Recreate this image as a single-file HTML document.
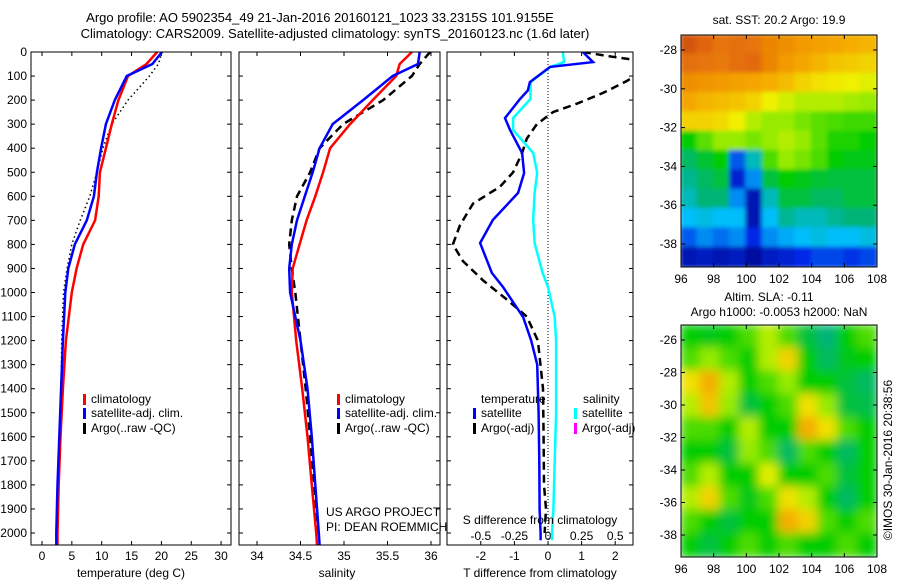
<!DOCTYPE html>
<html><head><meta charset="utf-8"><style>
body{margin:0;background:#fff}
svg{display:block;font-family:"Liberation Sans",sans-serif;font-size:12px}
</style></head><body>
<svg id="s" width="900" height="580" xmlns="http://www.w3.org/2000/svg">
<defs>
<clipPath id="c1"><rect x="31" y="52" width="200" height="493"/></clipPath>
<clipPath id="c2"><rect x="239" y="52" width="201" height="493"/></clipPath>
<clipPath id="c3"><rect x="447" y="52" width="186" height="493"/></clipPath>
<clipPath id="m1c"><rect x="681" y="35" width="196" height="232"/></clipPath>
<clipPath id="m2c"><rect x="681" y="325" width="196" height="232"/></clipPath>
<filter id="bl1"><feGaussianBlur stdDeviation="2"/></filter>
<filter id="bl2"><feGaussianBlur stdDeviation="5"/></filter>
</defs>
<text x="320" y="22" text-anchor="middle" font-size="13">Argo profile: AO 5902354_49 21-Jan-2016 20160121_1023 33.2315S 101.9155E</text>
<text x="335" y="38" text-anchor="middle" font-size="13">Climatology: CARS2009. Satellite-adjusted climatology: synTS_20160123.nc (1.6d later)</text>
<text x="779" y="24" text-anchor="middle">sat. SST: 20.2 Argo: 19.9</text>
<text x="769" y="301" text-anchor="middle">Altim. SLA: -0.11</text>
<text x="779" y="316" text-anchor="middle">Argo h1000: -0.0053 h2000: NaN</text>
<text transform="translate(892,460) rotate(-90)" text-anchor="middle">©IMOS 30-Jan-2016 20:38:56</text>
<g id="g"></g>
</svg>
<script>
// ---- data ----
const depths=[0,50,100,200,300,400,500,600,700,800,900,1000,1200,1400,1600,1800,2000,2050];
const tClim=[19.3,17.5,14.4,12.8,11.7,10.7,9.7,9.5,8.9,6.9,5.8,5.0,4.0,3.5,3.1,2.8,2.6,2.6];
const tSat=[20.1,18.5,14.2,12.2,10.7,9.9,9.2,8.7,7.5,5.5,4.4,3.9,3.5,3.2,2.9,2.6,2.4,2.4];
const tArgo=[20.1,19.5,18.0,14.4,11.7,10.2,9.2,8.0,6.4,5.0,4.2,3.6,3.3,3.2,2.9,2.7,2.5];
const sClim=[35.78,35.64,35.6,35.33,35.07,34.84,34.76,34.67,34.57,34.49,34.41,34.4,34.45,34.52,34.58,34.63,34.68,34.69];
const sSat=[35.87,35.85,35.56,35.22,34.87,34.72,34.64,34.55,34.46,34.4,34.37,34.38,34.5,34.58,34.63,34.67,34.71,34.72];
const sArgo=[35.99,35.87,35.78,35.45,34.99,34.72,34.61,34.46,34.4,34.37,34.4,34.44,34.5,34.56,34.61,34.66,34.7];
const dDepths=[0,42,62,125,160,195,275,324,420,503,586,698,794,919,977,1102,1200,1300,1500,1700,1900,2000,2030];
const dTSat=[1.04,1.34,0.06,-0.54,-0.6,-0.83,-1.28,-1.13,-0.77,-0.71,-0.89,-1.64,-2.02,-1.67,-1.34,-0.74,-0.5,-0.32,-0.28,-0.26,-0.25,-0.22,-0.22];
const dSSat=[0.11,0.12,0.02,-0.13,-0.13,-0.13,-0.26,-0.26,-0.11,-0.08,-0.1,-0.11,-0.1,-0.04,0.0,0.05,0.06,0.06,0.06,0.05,0.04,0.03,0.03];
const aDepths=[0,20,40,70,120,170,215,250,300,360,420,500,560,630,720,800,870,950,1030,1100,1200,1400,1600,1800,1900,2000];
const dTArgo=[1.04,1.93,2.95,2.9,2.35,1.64,0.86,0.15,-0.33,-0.63,-0.77,-1.04,-1.43,-2.23,-2.62,-2.83,-2.53,-1.93,-1.22,-0.63,-0.3,-0.15,-0.13,-0.12,-0.06,-0.1];
const depthTicks=[0,100,200,300,400,500,600,700,800,900,1000,1100,1200,1300,1400,1500,1600,1700,1800,1900,2000];
const tTicks=[0,5,10,15,20,25,30];
const sTicks=[34,34.5,35,35.5,36];
const sTickLabels=["34","34.5","35","35.5","36"];
const dTTicks=[-2,-1,0,1,2];
const dSTicks=[-0.5,-0.25,0,0.25,0.5];
const dSTickLabels=["-0.5","-0.25","0","0.25","0.5"];
const lonTicks=[96,98,100,102,104,106,108];
const lat1Ticks=[-28,-30,-32,-34,-36,-38];
const lat2Ticks=[-26,-28,-30,-32,-34,-36,-38];
const sstGrid=[
[.9,.88,.85,.86,.85,.82,.8,.78,.77,.76,.75,.74],
[.86,.85,.84,.86,.87,.82,.78,.76,.74,.72,.71,.7],
[.8,.79,.78,.77,.76,.75,.73,.7,.68,.67,.66,.65],
[.76,.74,.73,.72,.7,.66,.64,.62,.62,.62,.61,.6],
[.7,.7,.69,.66,.62,.6,.6,.58,.56,.55,.54,.54],
[.5,.56,.6,.6,.58,.6,.62,.6,.56,.52,.52,.5],
[.42,.46,.5,.2,.35,.55,.6,.58,.55,.5,.48,.48],
[.38,.42,.45,.12,.25,.45,.5,.48,.46,.45,.45,.45],
[.35,.4,.4,.25,.08,.35,.45,.45,.42,.42,.45,.45],
[.3,.32,.3,.3,.08,.3,.38,.35,.35,.38,.4,.4],
[.2,.25,.22,.25,.15,.25,.28,.3,.32,.3,.3,.32],
[.08,.1,.08,.1,.05,.1,.12,.15,.18,.18,.16,.18]];
const slaGrid=[
[.5,.48,.5,.55,.62,.55,.45,.4,.5,.55],
[.55,.6,.55,.5,.62,.7,.5,.42,.48,.5],
[.68,.75,.62,.5,.55,.6,.5,.5,.45,.42],
[.62,.72,.6,.45,.5,.55,.68,.6,.45,.44],
[.55,.55,.5,.62,.5,.5,.75,.68,.55,.5],
[.5,.5,.45,.6,.55,.42,.55,.5,.42,.5],
[.55,.62,.5,.5,.65,.5,.5,.55,.45,.5],
[.62,.7,.55,.48,.55,.68,.62,.5,.42,.5],
[.55,.5,.45,.5,.5,.75,.7,.55,.5,.55],
[.5,.45,.5,.55,.5,.55,.5,.5,.55,.5]];

// ---- scales ----
const yD=d=>52+d*0.2405;
const xT=t=>42+t*5.97;
const xS=s=>257+(s-34)*87;
const xDT=t=>548+t*33.6;
const xDS=s=>548+s*4*33.6;
const xLon=l=>681+(l-96)*196/12;
const yLat1=l=>50+(-28-l)*19.4;
const yLat2=l=>340+(-26-l)*16.25;

const NS="http://www.w3.org/2000/svg";
const G=document.getElementById('g');
function mk(tag,attrs,parent){const e=document.createElementNS(NS,tag);for(const k in attrs)e.setAttribute(k,attrs[k]);(parent||G).appendChild(e);return e;}
function txt(x,y,s,anchor,parent){const e=mk('text',{x:x,y:y,'text-anchor':anchor||'start'},parent);e.textContent=s;return e;}
const cmStops=[[0,[0,0,120]],[0.15,[0,40,230]],[0.3,[0,190,250]],[0.4,[0,180,120]],[0.5,[0,205,0]],[0.6,[150,235,0]],[0.66,[240,240,0]],[0.76,[245,165,0]],[0.88,[225,100,10]],[1,[140,20,0]]];
function jet(v){v=Math.max(0,Math.min(1,v));for(let i=1;i<cmStops.length;i++){if(v<=cmStops[i][0]){const [a,ca]=cmStops[i-1],[b,cb]=cmStops[i];const f=(v-a)/(b-a);return `rgb(${ca.map((c,k)=>Math.round(c+(cb[k]-c)*f)).join(',')})`;}}return 'rgb(140,20,0)';}
function line(xs,ds,xf,color,w,dash,clip,name){
  const pts=xs.map((v,i)=>xf(v).toFixed(1)+','+yD(ds[i]).toFixed(1)).join(' ');
  const p=mk('polyline',{points:pts,fill:'none',stroke:color,'stroke-width':w,'clip-path':'url(#'+clip+')'});
  if(dash)p.setAttribute('stroke-dasharray',dash);
  
  
}
function frame(x,w,name){
  const r=mk('rect',{x:x,y:52,width:w,height:493,fill:'none',stroke:'#000','stroke-width':1});
  
  
}
[[31,231],[239,440],[447,633]].forEach(([a,b])=>{
  depthTicks.forEach(d=>{mk('line',{x1:a,x2:a+4,y1:yD(d),y2:yD(d),stroke:'#000'});mk('line',{x1:b,x2:b-4,y1:yD(d),y2:yD(d),stroke:'#000'});});
});
depthTicks.forEach(d=>{const t=txt(27,yD(d)+4,String(d),'end');});
// panel 1
tTicks.forEach(t=>{mk('line',{x1:xT(t),x2:xT(t),y1:545,y2:541,stroke:'#000'});mk('line',{x1:xT(t),x2:xT(t),y1:52,y2:56,stroke:'#000'});const e=txt(xT(t),560,String(t),'middle');});
line(tArgo,depths.slice(0,tArgo.length),xT,'#000',1.5,'1.5,3','c1','temperature-argo-line');
line(tClim,depths,xT,'#f00',2.5,null,'c1','temperature-climatology-line');
line(tSat,depths,xT,'#00f',2.5,null,'c1','temperature-satellite-line');
frame(31,200,'temperature-panel');
{const e=txt(131,577,'temperature (deg C)','middle');}
// panel 2
sTicks.forEach((s,i)=>{mk('line',{x1:xS(s),x2:xS(s),y1:545,y2:541,stroke:'#000'});mk('line',{x1:xS(s),x2:xS(s),y1:52,y2:56,stroke:'#000'});const e=txt(xS(s),560,sTickLabels[i],'middle');});
line(sArgo,depths.slice(0,sArgo.length),xS,'#000',2.5,'8,5','c2','salinity-argo-line');
line(sClim,depths,xS,'#f00',2.5,null,'c2','salinity-climatology-line');
line(sSat,depths,xS,'#00f',2.5,null,'c2','salinity-satellite-line');
frame(239,201,'salinity-panel');
{const e=txt(337,577,'salinity','middle');}
// panel 3
dTTicks.forEach(t=>{mk('line',{x1:xDT(t),x2:xDT(t),y1:545,y2:541,stroke:'#000'});const e=txt(xDT(t),560,String(t),'middle');});
dSTicks.forEach((s,i)=>{mk('line',{x1:xDS(s),x2:xDS(s),y1:52,y2:56,stroke:'#000'});const e=txt(xDS(s),540,dSTickLabels[i],'middle');});
mk('line',{x1:xDT(0),x2:xDT(0),y1:52,y2:545,stroke:'#000','stroke-dasharray':'1,2'});
line(dTArgo,aDepths,xDT,'#000',2.5,'8,5','c3','t-diff-argo-line');
line(dSSat,dDepths,xDS,'#0ff',2.5,null,'c3','s-diff-satellite-line');
line(dTSat,dDepths,xDT,'#00f',2.5,null,'c3','t-diff-satellite-line');
frame(447,186,'difference-panel');
{const e=txt(540,524,'S difference from climatology','middle');}
{const e=txt(540,577,'T difference from climatology','middle');}
// legends
function leg(x,y,color,label,name){mk('rect',{x:x,y:y-9,width:3,height:11,fill:color});const e=txt(x+8,y,label);}
leg(83,403,'#f00','climatology','legend-climatology');
leg(83,417,'#00f','satellite-adj. clim.','legend-satellite');
leg(83,432,'#000','Argo(..raw -QC)','legend-argo');
leg(337,403,'#f00','climatology','legend2-climatology');
leg(337,417,'#00f','satellite-adj. clim.','legend2-satellite');
leg(337,432,'#000','Argo(..raw -QC)','legend2-argo');
txt(481,403,'temperature');txt(583,403,'salinity');
leg(473,417,'#00f','satellite','legend3-t-satellite');
leg(473,432,'#000','Argo(-adj)','legend3-t-argo');
leg(574,417,'#0ff','satellite','legend3-s-satellite');
leg(574,432,'#f0f','Argo(-adj)','legend3-s-argo');
txt(326,516,'US ARGO PROJECT');txt(326,531,'PI: DEAN ROEMMICH');
// maps
function map(grid,y0,h,clip,filt,name){
  const g=mk('g',{'clip-path':'url(#'+clip+')'});
  
  
  const inner=mk('g',{filter:'url(#'+filt+')'},g);
  const R=grid.length,C=grid[0].length,cw=196/C,ch=h/R;
  grid.forEach((row,r)=>row.forEach((v,c)=>{
    const cell=mk('rect',{x:(681+c*cw-1).toFixed(1),y:(y0+r*ch-1).toFixed(1),width:(cw+2).toFixed(1),height:(ch+2).toFixed(1),fill:jet(v)},inner);
    
    
  }));
  mk('rect',{x:681,y:y0,width:196,height:h,fill:'none',stroke:'#000'});
}
map(sstGrid,35,232,'m1c','bl1','sst-map');
map(slaGrid,325,232,'m2c','bl2','sla-map');
[[35,267],[325,557]].forEach(([t,b])=>{
  lonTicks.forEach(l=>{mk('line',{x1:xLon(l),x2:xLon(l),y1:b,y2:b-4,stroke:'#000'});mk('line',{x1:xLon(l),x2:xLon(l),y1:t,y2:t+4,stroke:'#000'});const e=txt(xLon(l),b+16,String(l),'middle');});
});
lat1Ticks.forEach(l=>{mk('line',{x1:681,x2:685,y1:yLat1(l),y2:yLat1(l),stroke:'#000'});mk('line',{x1:877,x2:873,y1:yLat1(l),y2:yLat1(l),stroke:'#000'});const e=txt(677,yLat1(l)+4,String(l),'end');});
lat2Ticks.forEach(l=>{mk('line',{x1:681,x2:685,y1:yLat2(l),y2:yLat2(l),stroke:'#000'});mk('line',{x1:877,x2:873,y1:yLat2(l),y2:yLat2(l),stroke:'#000'});const e=txt(677,yLat2(l)+4,String(l),'end');});
</script>
</body></html>
